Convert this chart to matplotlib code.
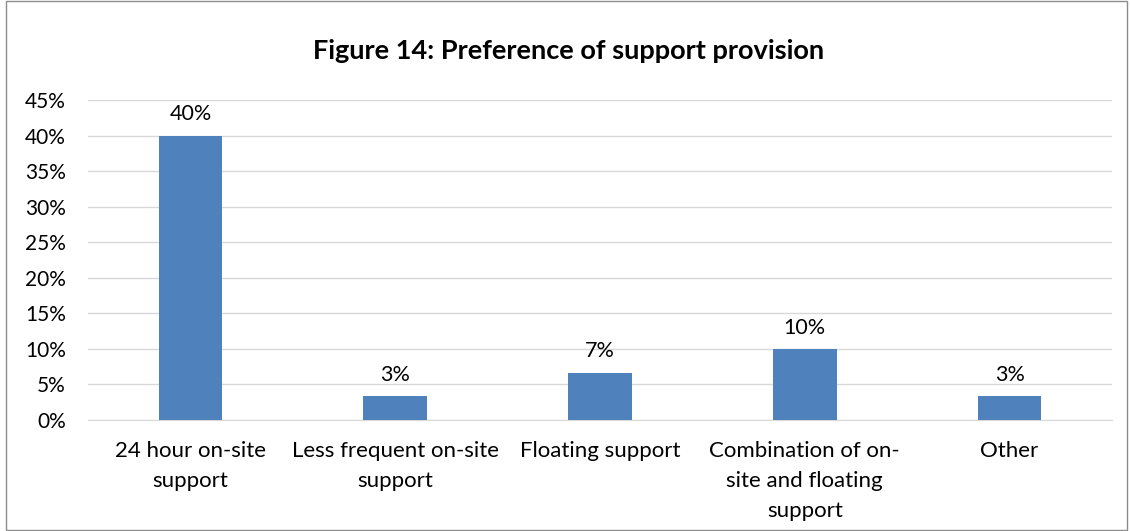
import matplotlib.pyplot as plt
from matplotlib.patches import Rectangle
from matplotlib.ticker import PercentFormatter

plt.rcParams['font.family'] = ['Lato', 'DejaVu Sans']

categories = ["24 hour on-site\nsupport", "Less frequent on-site\nsupport", "Floating support",
              "Combination of on-\nsite and floating\nsupport", "Other"]
values = [40.0, 3.33, 6.67, 10.0, 3.33]
labels = ["40%", "3%", "7%", "10%", "3%"]
yticks = [0, 5, 10, 15, 20, 25, 30, 35, 40, 45]

fig = plt.figure(figsize=(11.3, 5.31), dpi=100)
ax = fig.add_axes([88/1130, 1 - 420/531, (1112-88)/1130, 320/531])

x = range(len(values))
bars = ax.bar(x, values, width=0.31, color='#4f81bd', zorder=3)
for b, lab in zip(bars, labels):
    ax.text(b.get_x() + b.get_width()/2, b.get_height() + 1.6, lab,
            ha='center', va='bottom', fontsize=15.5, color='#000000')

ax.set_xlim(-0.5, 4.5)
ax.set_ylim(0, 45)
ax.set_yticks(yticks)
ax.yaxis.set_major_formatter(PercentFormatter(decimals=0))
ax.grid(axis='y', color='#d9d9d9', linewidth=1, zorder=0)
ax.set_xticks(list(x))
ax.set_xticklabels(categories, fontsize=16, va='top', linespacing=1.62)
ax.tick_params(axis='y', labelsize=15, length=0, pad=16)
ax.tick_params(axis='x', length=0, pad=15)
for s in ['top', 'right', 'left']:
    ax.spines[s].set_visible(False)
ax.spines['bottom'].set_color('#d9d9d9')

fig.text(0.5 + 4/1130, 1 - 51/531, "Figure 14: Preference of support provision",
         ha='center', va='center', fontsize=19.5, fontweight='bold')

fig.patches.append(Rectangle((6/1130, 0.001), 1121/1130, 0.997, transform=fig.transFigure,
                             fill=False, edgecolor='#8c8c8c', linewidth=1))

fig.savefig('out.png', dpi=100)
